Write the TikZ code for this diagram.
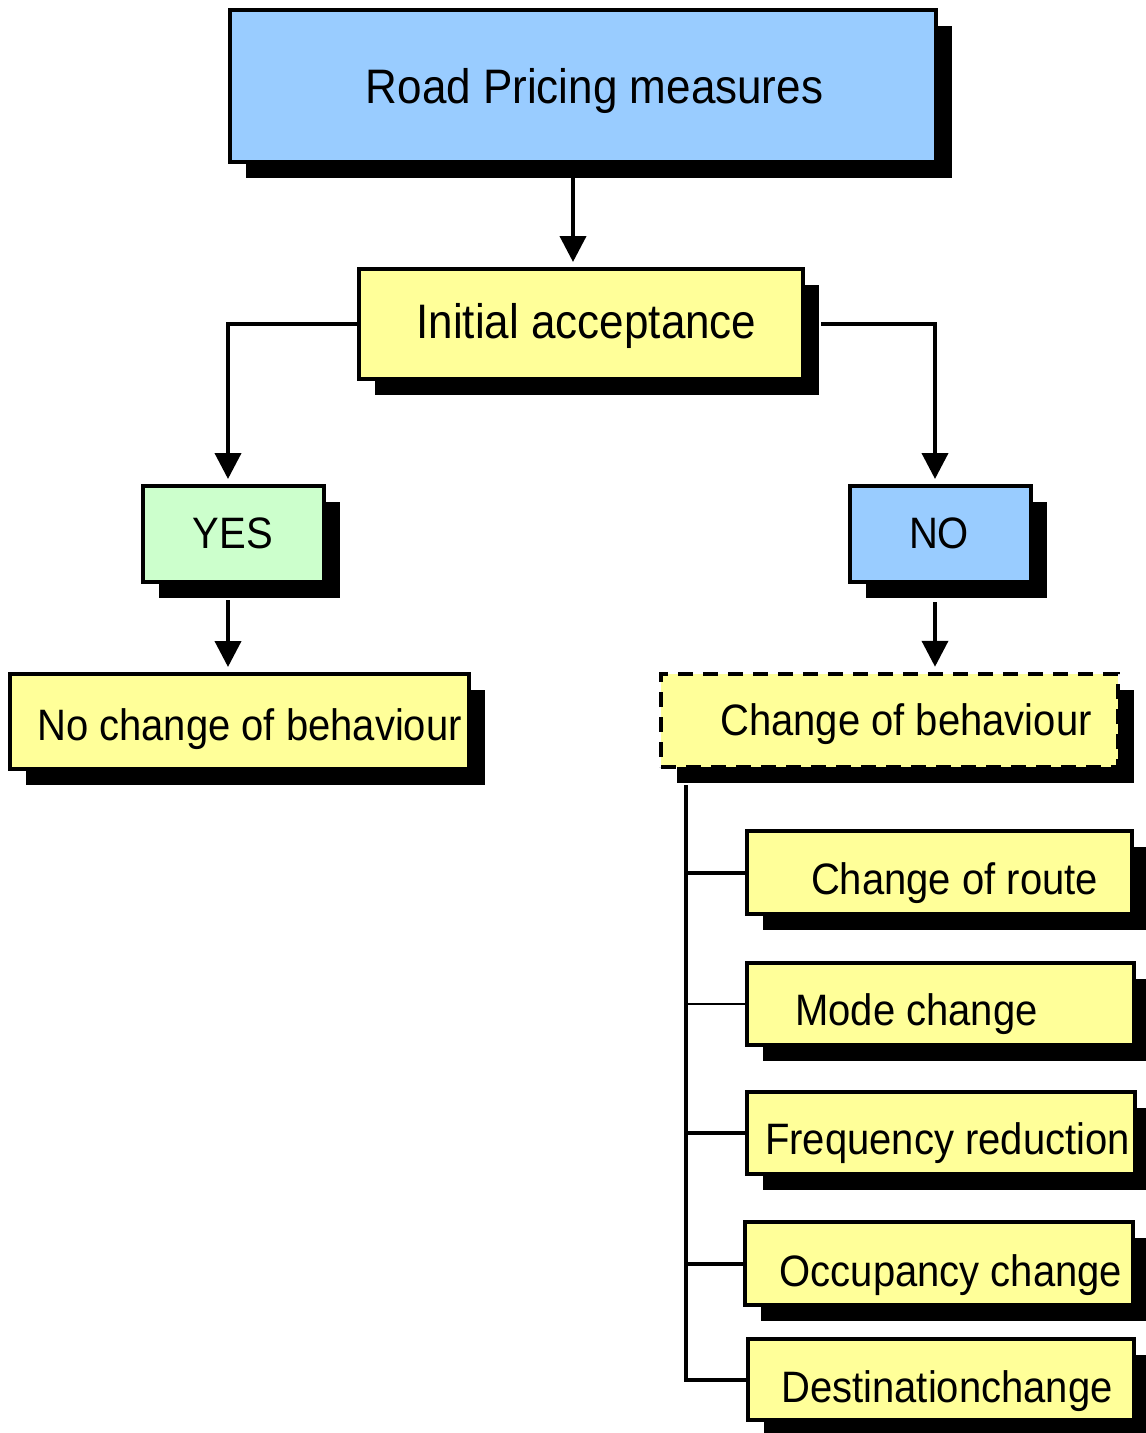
\documentclass[tikz,border=0pt]{standalone}
\usepackage{fontspec}
\setmainfont{Liberation Sans}
\usetikzlibrary{arrows.meta,shadows}
\definecolor{skyblue}{HTML}{99CCFF}
\definecolor{paleyellow}{HTML}{FFFF99}
\definecolor{palegreen}{HTML}{CCFFCC}
\begin{document}
\begin{tikzpicture}[x=1pt,y=-1pt,
  box/.style={draw=black,line width=4pt,rectangle,inner sep=0pt,
    drop shadow={shadow xshift=16pt,shadow yshift=-16pt,fill=black,opacity=1}},
  dashbox/.style={box,dash pattern=on 15pt off 10pt,line width=4.5pt},
  lbl/.style={inner sep=0pt,anchor=base,font=\fontsize{40}{48}\selectfont},
  biglbl/.style={lbl,font=\fontsize{44}{52}\selectfont},
  link/.style={draw=black,line width=4pt},
  thinlink/.style={draw=black,line width=2pt},
  arr/.style={link,-{Triangle[length=26pt,width=26pt]},shorten >=5pt}]
\useasboundingbox (0,0) rectangle (1146,1433);
% boxes
\node[box,fill=skyblue,minimum width=706pt,minimum height=152pt] (top) at (583,86) {};
\node[box,fill=paleyellow,minimum width=444pt,minimum height=110pt] (init) at (581,324) {};
\node[box,fill=palegreen,minimum width=181pt,minimum height=96pt] (yes) at (233.5,534) {};
\node[box,fill=skyblue,minimum width=181pt,minimum height=96pt] (no) at (940.5,534) {};
\node[box,fill=paleyellow,minimum width=459pt,minimum height=95pt] (nochg) at (239.5,721.5) {};
\node[dashbox,fill=paleyellow,minimum width=457pt,minimum height=93pt] (chg) at (889.5,720.5) {};
\node[box,fill=paleyellow,minimum width=385pt,minimum height=83pt] (c1) at (939.5,872.5) {};
\node[box,fill=paleyellow,minimum width=387pt,minimum height=82pt] (c2) at (940.5,1004) {};
\node[box,fill=paleyellow,minimum width=388pt,minimum height=82pt] (c3) at (941,1133) {};
\node[box,fill=paleyellow,minimum width=388pt,minimum height=83pt] (c4) at (939,1263.5) {};
\node[box,fill=paleyellow,minimum width=386pt,minimum height=81pt] (c5) at (941,1379.5) {};
% labels
\node[biglbl] (top-t) at (594.5,103) {\scalebox{1}[1.1]{Road Pricing measures}};
\node[biglbl] (init-t) at (586.5,338) {\scalebox{1}[1.1]{Initial acceptance}};
\node[lbl] (yes-t) at (233,548) {\scalebox{1}[1.1]{YES}};
\node[lbl] (no-t) at (939,548) {\scalebox{1}[1.1]{NO}};
\node[lbl] (nochg-t) at (249.5,740) {\scalebox{1}[1.1]{No change of behaviour}};
\node[lbl] (chg-t) at (906,735) {\scalebox{1}[1.1]{Change of behaviour}};
\node[lbl] (c1-t) at (954.5,894) {\scalebox{1}[1.1]{Change of route}};
\node[lbl] (c2-t) at (916.5,1025) {\scalebox{1}[1.1]{Mode change}};
\node[lbl] (c3-t) at (947.5,1154) {\scalebox{1}[1.1]{Frequency reduction}};
\node[lbl] (c4-t) at (951,1286) {\scalebox{1}[1.1]{Occupancy change}};
\node[lbl] (c5-t) at (947,1402) {\scalebox{1}[1.1]{Destinationchange}};
% connectors
\draw[arr] ([xshift=-10pt]top.south) -- ([xshift=-10pt]top.south |- init.north);
\draw[arr] (init.west) -| ([xshift=-5.5pt]yes.north);
\draw[arr] ([xshift=16pt]init.east) -| ([xshift=-5.5pt]no.north);
\draw[arr] ([xshift=-5.5pt,yshift=-16pt]yes.south) -- ([xshift=-5.5pt]yes.south |- nochg.north);
\draw[arr] ([xshift=-5.5pt,yshift=-18pt]no.south) -- ([xshift=-5.5pt]no.south |- chg.north);
\coordinate (trunk) at ([xshift=27pt,yshift=-16pt]chg.south west);
\draw[link] (trunk) |- (c5.west);
\draw[link] (trunk |- c1.west) -- (c1.west);
\draw[thinlink] (trunk |- c2.west) -- (c2.west);
\draw[link] (trunk |- c3.west) -- (c3.west);
\draw[link] (trunk |- c4.west) -- (c4.west);
\end{tikzpicture}
\end{document}
